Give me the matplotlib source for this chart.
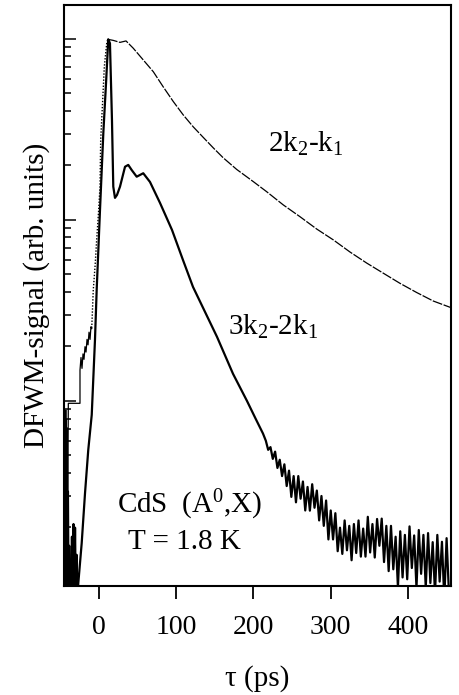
import numpy as np
import matplotlib
matplotlib.use("Agg")
import matplotlib.pyplot as plt
from matplotlib.ticker import LogLocator, NullFormatter, FixedLocator

plt.rcParams['font.family'] = ['Liberation Serif', 'DejaVu Serif']
plt.rcParams['mathtext.fontset'] = 'custom'
plt.rcParams['mathtext.rm'] = 'Liberation Serif'
plt.rcParams['mathtext.it'] = 'Liberation Serif:italic'

# delay times in ps, signal as log10
# 2k2-k1 : baseline and slow start (thin line)
tau_a_pre = [-45.0, -44.5, -44.0, -43.5, -43.0, -42.5, -42.0, -41.5, -41.0, -40.5, -39.7,
             -24.6, -24.6, -23.3, -22.0, -20.7, -19.4, -18.1, -16.8, -15.5, -14.2,
             -12.9, -11.6, -10.4, -9.4]
lg_a_pre = [-2.10, -3.10, -2.20, -3.10, -2.05, -3.10, -2.30, -3.10, -2.15, -2.60, -2.013,
            -2.013, -1.83, -1.76, -1.82, -1.74, -1.77, -1.70, -1.73, -1.66, -1.69,
            -1.62, -1.66, -1.59, -1.60]
# 2k2-k1 : steep rise (comes out dotted on the recorder)
tau_a_rise = [-9.4, -7.4, -5.0, -3.0, -0.5, 1.3, 2.2, 4.8, 6.9, 10.0, 11.3]
lg_a_rise = [-1.597, -1.387, -1.25, -1.110, -0.95, -0.816, -0.558, -0.337, -0.153, -0.024, -0.002]
# 2k2-k1 : decay
tau_a = [11.3, 18.5, 27.2, 35.0, 44.3, 57.3, 70.3, 83.2, 96.2, 109.1, 122.1, 135.0, 148.0,
         160.9, 178.3, 199.7, 217.1, 238.6, 260.2, 281.8, 303.3, 324.9, 346.5, 368.0,
         389.6, 411.3, 432.8, 458.6]
lg_a = [-0.002, -0.008, -0.019, -0.011, -0.051, -0.116, -0.181, -0.265, -0.346, -0.420,
        -0.486, -0.544, -0.602, -0.657, -0.721, -0.788, -0.844, -0.917, -0.982, -1.050,
        -1.110, -1.177, -1.238, -1.294, -1.350, -1.401, -1.448, -1.489]

# 3k2-2k1 (thick line)
tau_b_pre = [-45.0, -44.2, -43.4, -42.6, -41.8, -41.0, -40.2, -39.4, -38.6, -37.8, -37.0,
             -36.0, -35.0, -34.0, -33.0, -32.0, -31.0, -30.0, -29.0, -28.0]
lg_b_pre = [-2.15, -3.10, -2.10, -3.10, -2.30, -3.10, -2.50, -3.10, -2.80, -3.10, -2.90,
            -3.10, -2.75, -3.10, -2.68, -3.10, -2.70, -3.10, -2.85, -3.10]
tau_b = [-26.8, -22.4, -18.1, -13.9, -9.4, -5.2, -3.0, 1.3, 5.6, 9.1, 12.0,
         14.2, 16.8, 18.5, 20.7, 23.3, 27.2, 33.7, 37.9, 42.3, 48.8, 57.3, 66.0, 79.0,
         94.5, 108.7, 121.7, 137.2, 152.8, 173.5, 191.6, 203.0, 212.3]
lg_b = [-3.007, -2.786, -2.510, -2.271, -2.077, -1.663, -1.387, -0.945, -0.521, -0.245, -0.002,
        -0.024, -0.448, -0.816, -0.878, -0.862, -0.816, -0.706, -0.696, -0.724, -0.761,
        -0.742, -0.790, -0.906, -1.055, -1.221, -1.370, -1.508, -1.646, -1.850, -2.00,
        -2.10, -2.18]
tau_b_tail = [216, 219, 222, 225, 228, 231, 234, 237, 240, 243, 246, 249, 252, 255, 258,
              261, 264, 267, 270, 273, 276, 279, 282, 285, 288, 291, 294, 297, 300, 303,
              306, 309, 312, 315, 318, 321, 324, 327, 330, 333, 336, 339, 342, 345, 348,
              351, 354, 357, 360, 363, 366, 369, 372, 375, 378, 381, 384, 387, 390, 393,
              396, 399, 402, 405, 408, 411, 414, 417, 420, 423, 426, 429, 432, 435, 438,
              441, 444, 447, 450, 453]
lg_b_tail = [-2.22, -2.27, -2.255, -2.32, -2.28, -2.37, -2.325, -2.415, -2.35, -2.47,
             -2.385, -2.53, -2.415, -2.56, -2.415, -2.54, -2.445, -2.605, -2.475, -2.606,
             -2.46, -2.59, -2.495, -2.66, -2.525, -2.69, -2.55, -2.765, -2.605, -2.765,
             -2.62, -2.83, -2.70, -2.845, -2.66, -2.825, -2.69, -2.88, -2.68, -2.84,
             -2.66, -2.86, -2.705, -2.86, -2.64, -2.837, -2.68, -2.865, -2.652, -2.80,
             -2.65, -2.89, -2.69, -2.94, -2.69, -2.93, -2.75, -3.03, -2.72, -2.975,
             -2.74, -2.985, -2.693, -2.923, -2.743, -3.033, -2.713, -2.955, -2.74, -3.03,
             -2.73, -3.006, -2.78, -3.065, -2.74, -2.998, -2.778, -3.098, -2.758, -3.058]

x_ticks = [0, 100, 200, 300, 400]

fig = plt.figure(figsize=(4.59, 6.95), dpi=100)
ax = fig.add_axes([64 / 459, 109 / 695, 387 / 459, 581 / 695])

def sig(lg):
    return 10 ** np.array(lg)

ax.plot(tau_a_pre, sig(lg_a_pre), color='black', lw=0.9)
ax.plot(tau_a_rise, sig(lg_a_rise), color='black', lw=1.0, ls=(0, (1, 1.2)))
ax.plot(tau_a, sig(lg_a), color='black', lw=0.9, ls=(0, (8, 1.2)))

ax.plot(tau_b_pre + tau_b + tau_b_tail, sig(lg_b_pre + lg_b + lg_b_tail),
        color='black', lw=1.6)

ax.set_yscale('log')
ax.set_xlim(-45.3, 455.7)
ax.set_ylim(9.5e-4, 1.54)

ax.xaxis.set_major_locator(FixedLocator(x_ticks))
ax.yaxis.set_major_locator(LogLocator(base=10, numticks=10))
ax.yaxis.set_minor_locator(LogLocator(base=10, subs=np.arange(2, 10), numticks=20))
ax.yaxis.set_major_formatter(NullFormatter())
ax.yaxis.set_minor_formatter(NullFormatter())

ax.tick_params(axis='x', which='major', direction='out', length=9, width=1.3,
               labelsize=20, pad=12, top=False)
ax.tick_params(axis='y', which='major', direction='in', length=8.5, width=1.1, right=False)
ax.tick_params(axis='y', which='minor', direction='in', length=5, width=1.1, right=False)
for s in ax.spines.values():
    s.set_linewidth(1.5)

ax.set_xlabel(r'τ (ps)', fontsize=21, labelpad=18)
ax.set_ylabel('DFWM-signal (arb. units)', fontsize=21)
ax.yaxis.set_label_coords(-0.036, 0.5)

ax.text(0.527, 0.747, r'2k$_2$-k$_1$', transform=ax.transAxes, fontsize=21, va='baseline')
ax.text(0.424, 0.432, r'3k$_2$-2k$_1$', transform=ax.transAxes, fontsize=21, va='baseline')
ax.text(0.137, 0.126, r'CdS  (A$^0$,X)', transform=ax.transAxes, fontsize=21, va='baseline')
ax.text(0.165, 0.064, 'T = 1.8 K', transform=ax.transAxes, fontsize=21, va='baseline')

fig.savefig('out.png', dpi=100)
